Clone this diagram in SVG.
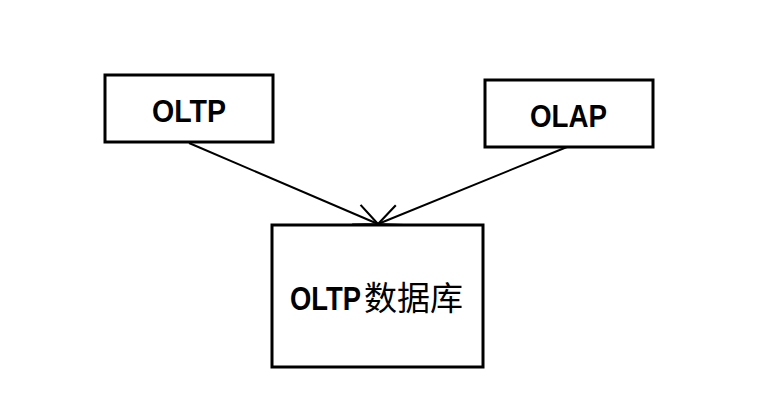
<svg xmlns="http://www.w3.org/2000/svg" width="765" height="407" viewBox="0 0 765 407">
<style>
.box{fill:#fff;stroke:#000;stroke-width:3}
.lbl{font-family:"Liberation Sans",Arial,sans-serif;font-weight:bold;fill:#000}
.cjk{font-family:"Noto Sans CJK SC","Noto Sans CJK JP",sans-serif;font-weight:normal}
.edge{fill:none;stroke:#000;stroke-width:2}
</style>
<defs>
<marker id="arr" markerUnits="userSpaceOnUse" orient="auto" refX="0" refY="0" markerWidth="30" markerHeight="30" viewBox="-26 -13 28 26" overflow="visible">
<path d="M-22,-10 L0,0 L-22,10" fill="none" stroke="#000" stroke-width="2"/>
</marker>
</defs>
<rect width="765" height="407" fill="#fff"/>
<g id="connectors">
<line class="edge" x1="189" y1="143" x2="378" y2="224" marker-end="url(#arr)"/>
<line class="edge" x1="567" y1="147" x2="378" y2="224" marker-end="url(#arr)"/>
</g>
<g id="oltp">
<rect class="box" x="105" y="75" width="168" height="67"/>
<text class="lbl" x="152" y="122" font-size="31" textLength="74" lengthAdjust="spacingAndGlyphs">OLTP</text>
</g>
<g id="olap">
<rect class="box" x="485" y="80" width="168" height="67"/>
<text class="lbl" x="530" y="126.5" font-size="31" textLength="77" lengthAdjust="spacingAndGlyphs">OLAP</text>
</g>
<g id="oltpdb">
<rect class="box" x="272" y="225" width="211" height="142"/>
<text class="lbl" x="290" y="310" font-size="34"><tspan textLength="71" lengthAdjust="spacingAndGlyphs">OLTP</tspan><tspan class="cjk" x="364" font-size="33">数据库</tspan></text>
</g>
</svg>
